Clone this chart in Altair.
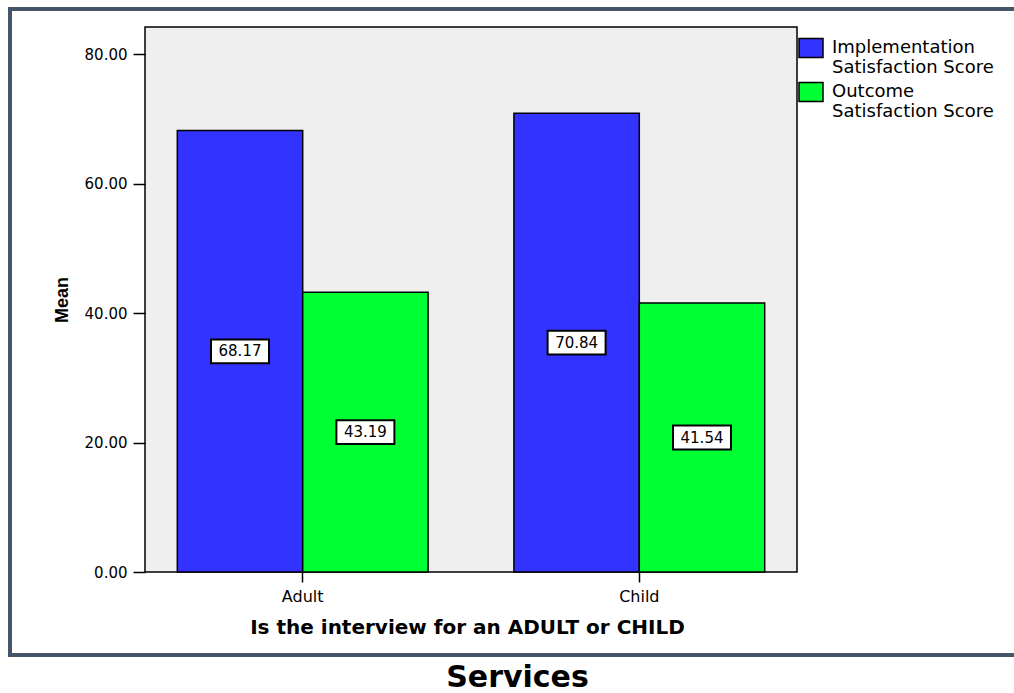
import altair as alt
import pandas as pd

# Mean satisfaction scores by interview type
categories = ["Adult", "Child"]
series = ["Implementation Satisfaction Score", "Outcome Satisfaction Score"]
implementation = [68.17, 70.84]
outcome = [43.19, 41.54]
y_ticks = [0, 20, 40, 60, 80]
colors = ["#3333ff", "#00ff33"]
caption = "Services"

rows = []
for i, cat in enumerate(categories):
    rows.append({"group": cat, "score": series[0], "mean": implementation[i]})
    rows.append({"group": cat, "score": series[1], "mean": outcome[i]})
df = pd.DataFrame(rows)

x_enc = alt.X(
    "group:N",
    sort=categories,
    scale=alt.Scale(paddingInner=0.255, paddingOuter=0.096),
    axis=alt.Axis(
        title="Is the interview for an ADULT or CHILD",
        titleFont="DejaVu Sans", titleFontSize=20, titleFontWeight="bold",
        titleColor="black", titleY=61, titleX=322, titleBaseline="alphabetic",
        labelAngle=0, labelFont="DejaVu Sans", labelFontSize=16, labelColor="black",
        labelPadding=6, tickSize=10, tickColor="black", tickWidth=1.5,
        domain=False, grid=False,
    ),
)
xo_enc = alt.XOffset("score:N", sort=series, scale=alt.Scale(paddingInner=0, paddingOuter=0))

y_axis = alt.Axis(
    values=y_ticks, format=".2f", title="Mean",
    titleFont="Liberation Sans", titleFontSize=18, titleFontWeight="bold",
    titleColor="black", titleAngle=270, titleX=-78, titleY=272.5,
    titleAlign="center", titleBaseline="alphabetic",
    labelFont="DejaVu Sans", labelFontSize=15, labelColor="black", labelPadding=6,
    tickSize=12, tickColor="black", tickWidth=1.5, domain=False, grid=False,
)
y_scale = alt.Scale(domain=[0, 84.17], nice=False)

legend_label = (
    "[slice(datum.label, 0, indexof(datum.label, ' ')), "
    "slice(datum.label, indexof(datum.label, ' ') + 1)]"
)

bars = alt.Chart(df).mark_bar(stroke="black", strokeWidth=1.5).encode(
    x=x_enc,
    xOffset=xo_enc,
    y=alt.Y("mean:Q", scale=y_scale, axis=y_axis),
    color=alt.Color(
        "score:N", sort=series,
        scale=alt.Scale(domain=series, range=colors),
        legend=alt.Legend(
            title=None, orient="none", legendX=653, legendY=8, padding=0,
            symbolType="M-1,-0.79L1,-0.79L1,0.79L-1,0.79Z", symbolSize=576,
            symbolStrokeColor="black", symbolStrokeWidth=1.5,
            labelFont="DejaVu Sans", labelFontSize=18, labelColor="black",
            labelOffset=8, labelLimit=300, rowPadding=2, labelExpr=legend_label,
        ),
    ),
)

# value boxes sit at half the bar height
boxes = alt.Chart(df).transform_calculate(half="datum.mean / 2").mark_point(
    shape="M-1,-0.41L1,-0.41L1,0.41L-1,0.41Z", size=3364, filled=True,
    fill="white", stroke="black", strokeWidth=2, opacity=1,
).encode(
    x=x_enc, xOffset=xo_enc,
    y=alt.Y("half:Q", scale=y_scale, axis=y_axis),
)

labels = alt.Chart(df).transform_calculate(half="datum.mean / 2").mark_text(
    font="DejaVu Sans", fontSize=15, color="black", baseline="middle", align="center",
).encode(
    x=x_enc, xOffset=xo_enc,
    y=alt.Y("half:Q", scale=y_scale, axis=y_axis),
    text=alt.Text("mean:Q", format=".2f"),
)

# outer frame around the plot and its axes
frame = alt.Chart(pd.DataFrame({"f": [0]})).mark_rect(
    fill="white", fillOpacity=0, stroke="#465669", strokeWidth=4,
).encode(
    x=alt.value(-135), x2=alt.value(880), y=alt.value(-18), y2=alt.value(628),
)

# caption below the frame
caption_text = alt.Chart(pd.DataFrame({"t": [caption]})).mark_text(
    font="DejaVu Sans", fontSize=30, fontWeight="bold", color="black",
    align="center", baseline="alphabetic",
).encode(
    text="t:N", x=alt.value(372.5), y=alt.value(660),
)

chart = alt.layer(frame, bars, boxes, labels, caption_text).properties(
    width=652,
    height=545,
    autosize=alt.AutoSizeParams(type="none"),
    padding={"left": 145, "top": 27, "right": 217, "bottom": 121},
).configure(
    background="white",
    view=alt.ViewConfig(fill="#efefef", stroke="black", strokeWidth=1.5),
)

chart.save("out.html", embed_options={"renderer": "svg", "actions": False})
